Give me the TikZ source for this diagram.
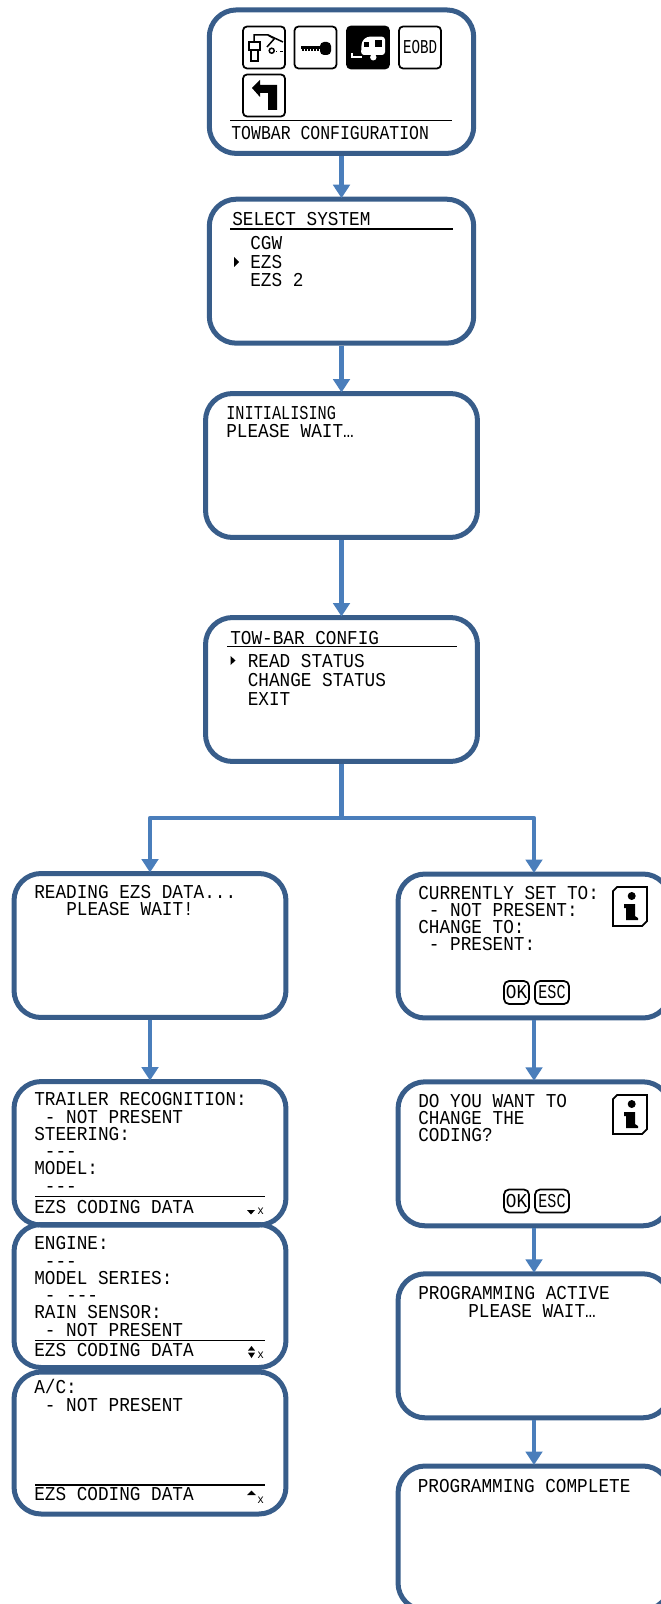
\documentclass[tikz,border=0pt]{standalone}
\usepackage{fontspec}
\usepackage{graphicx}
\usepackage{tikz}
\usetikzlibrary{arrows.meta}

\newfontfamily\lcdfont[FakeStretch=0.9]{Liberation Mono}
\definecolor{screenblue}{HTML}{385D8A}
\definecolor{flowblue}{HTML}{4A7EBB}

\tikzset{
  screen/.style={draw=screenblue, line width=0.1cm, rounded corners=0.54cm, minimum width=5.44cm, minimum height=2.88cm},
  flow/.style={draw=flowblue, line width=0.095cm, line join=round, shorten >=-0.03cm},
  lcd/.style={anchor=base west, inner sep=0pt, align=left, font=\fontsize{11.2}{9.8}\selectfont\lcdfont},
  menu/.style={lcd, font=\fontsize{11.2}{10.64}\selectfont\lcdfont},
  rulerline/.style={draw=black, line width=0.03cm},
  iconbox/.style={draw=black, line width=0.035cm, rounded corners=0.08cm, fill=white, minimum size=0.84cm, inner sep=0pt, font=\fontsize{11.2}{11.2}\selectfont\lcdfont},
  keybox/.style={draw=black, line width=0.035cm, rounded corners=0.1cm, minimum height=0.46cm, inner sep=0pt, font=\fontsize{11.2}{11.2}\selectfont\lcdfont},
  small/.style={lcd, font=\fontsize{7}{7}\selectfont\lcdfont}
}

\begin{document}
\begin{tikzpicture}[x=0.02cm, y=-0.02cm, >={Triangle[length=0.27cm, width=0.33cm]}]
\useasboundingbox (0,0) rectangle (661,1604);
\clip (0,0) rectangle (661,1604);

% Centre column
\node[screen, minimum width=5.29cm, minimum height=2.87cm] (towbar) at (341.5,81.7) {};
\node[screen, minimum width=5.29cm] (select) at (341.5,271.2) {};
\node[screen] (init) at (341.5,465.5) {};
\node[screen] (config) at (341.5,689.5) {};

% Left column
\node[screen] (reading) at (150,945.5) {};
\node[screen, minimum height=2.87cm] (trailer) at (150,1153.3) {};
\node[screen, minimum height=2.86cm] (engine) at (150,1296) {};
\node[screen, minimum height=2.84cm] (aircon) at (150,1443) {};

% Right column
\node[screen] (current) at (534,946) {};
\node[screen] (confirm) at (534,1153.8) {};
\node[screen] (active) at (534,1345.8) {};
\node[screen] (complete) at (534,1538) {};

% Menu icons
\node[iconbox] (tool) at (264,47.5) {};
\node[iconbox] (key) at (315.5,47.5) {};
\node[iconbox, fill=black] (caravan) at (368,47.5) {};
\node[iconbox] (eobd) at (420,47.5) {\scalebox{0.8}[1]{EOBD}};
\node[iconbox] (back) at (264,95.5) {};

% Tool icon
\draw[line width=0.03cm] (249,42) rectangle (260,50);
\draw[line width=0.03cm] (251,50) rectangle (258,61);
\draw[line width=0.03cm] (254,42) -- (254,35) -- (268,35) -- (273,38);
\draw[line width=0.03cm] (268,35) -- (283,42) (267,47) -- (275,38);
\draw[line width=0.03cm] (271.7,50.7) circle (2.5);
\draw[line width=0.03cm] (276,51.7) -- (277,51.7) (280,51.7) -- (283,51.7);

% Key icon
\fill (301,46.5) rectangle (321,49);
\foreach \tooth in {302,305,...,317} {
  \fill (\tooth,49) rectangle ++(1.6,2);
}
\fill[rounded corners=0.08cm] (320,42) rectangle (331,55);

% Caravan icon
\fill[white, rounded corners=0.06cm] (361,55) -- (361.7,41.7) -- (366.7,36.7) -- (385,36.7) -- (385,55) -- cycle;
\fill (363.5,41.7) rectangle (368.5,46.7);
\fill (375,40) rectangle (381.7,46.7);
\fill[white] (373.3,57.3) circle (3.2);
\draw[white, line width=0.04cm] (352,53) -- (352,57) -- (362,57);

% Back icon
\fill (252,88) -- (260,80) -- (260,85) -- (277,85) -- (277,110) -- (268,110) -- (268,93) -- (260,93) -- (260,97) -- cycle;

% Menu screen
\draw[rulerline] (230,120.7) -- (452,120.7);
\node[lcd] (towbartext) at (231,140) {\scalebox{0.93}[1]{TOWBAR CONFIGURATION}};

% System screen
\node[lcd] (selecttitle) at (232,225.7) {SELECT SYSTEM};
\draw[rulerline] (230,229) -- (453,229);
\node[menu] (selecttext) at (250,286.7) {CGW\\EZS\\EZS 2};
\fill (234,257) -- (239,262) -- (234,267) -- cycle;

% Wait screen
\node[lcd] (inittext) at (226,420) {\scalebox{0.86}[1]{INITIALISING}};
\node[lcd] (waittext) at (226,437.3) {PLEASE WAIT…};

% Config screen
\node[lcd] (configtitle) at (230,644) {TOW-BAR CONFIG};
\draw[rulerline] (227,646.7) -- (457,646.7);
\node[menu] (configtext) at (247.5,705.3) {READ STATUS\\CHANGE STATUS\\EXIT};
\fill (230.5,656) -- (235.5,660.5) -- (230.5,665) -- cycle;

% Reading screen
\node[lcd] (readtext) at (34,898.3) {READING EZS DATA...};
\node[lcd] (pleasetext) at (66,915.7) {PLEASE WAIT!};

% Coding data screens
\node[lcd] (trailertext) at (34,1192) {TRAILER RECOGNITION:\\\ - NOT PRESENT\\STEERING:\\\ -{}-{}-\\MODEL:\\\ -{}-{}-};
\draw[rulerline] (35,1196.7) -- (265,1196.7);
\node[lcd] (trailerfoot) at (34,1213.5) {EZS CODING DATA};
\fill (247,1210) -- (255,1210) -- (251,1214.5) -- cycle;
\node[small] (trailerx) at (257,1214.5) {x};

\node[lcd] (enginetext) at (34,1336) {ENGINE:\\\ -{}-{}-\\MODEL SERIES:\\\ - -{}-{}-\\RAIN SENSOR:\\\ - NOT PRESENT};
\draw[rulerline] (35,1340.7) -- (265,1340.7);
\node[lcd] (enginefoot) at (34,1356.7) {EZS CODING DATA};
\fill (248,1350.5) -- (255,1350.5) -- (251.5,1346) -- cycle;
\fill (248,1352.7) -- (255,1352.7) -- (251.5,1358) -- cycle;
\node[small] (enginex) at (257,1358) {x};

\node[lcd] (aircontext) at (34,1411) {A/C:\\\ - NOT PRESENT};
\draw[rulerline] (35,1485) -- (265,1485);
\node[lcd] (airconfoot) at (34,1500.7) {EZS CODING DATA};
\fill (247,1495) -- (256,1495) -- (251.5,1490.7) -- cycle;
\node[small] (airconx) at (257,1503) {x};

% Status screen
\node[lcd] (currenttext) at (418,950.7) {CURRENTLY SET TO:\\\ - NOT PRESENT:\\CHANGE TO:\\\ - PRESENT:};
\node[keybox, minimum width=0.5cm] (okone) at (516.5,992.5) {OK};
\node[keybox, minimum width=0.68cm] (escone) at (552,992.5) {\scalebox{0.85}[1]{ESC}};

% Question screen
\node[lcd] (confirmtext) at (418,1141.7) {DO YOU WANT TO\\CHANGE THE\\CODING?};
\node[keybox, minimum width=0.5cm] (oktwo) at (516.5,1201) {OK};
\node[keybox, minimum width=0.68cm] (esctwo) at (552,1201) {\scalebox{0.85}[1]{ESC}};

% Info icons
\foreach \infotop in {887,1095} {
  \draw[line width=0.035cm] (617,\infotop) -- (647,\infotop) -- (647,\infotop+34) -- (642,\infotop+39) -- (613,\infotop+39) -- (613,\infotop+4) -- cycle;
  \fill (631.7,\infotop+9) circle (4);
  \fill (624,\infotop+17) -- (635,\infotop+17) -- (635,\infotop+29) -- (638,\infotop+31) -- (638,\infotop+33) -- (626,\infotop+33) -- (626,\infotop+21) -- (624,\infotop+21) -- cycle;
}

% Programming screens
\node[lcd] (activetext) at (418,1299.3) {PROGRAMMING ACTIVE};
\node[lcd] (activewait) at (468,1317.3) {PLEASE WAIT…};
\node[lcd] (completetext) at (417.5,1492.5) {PROGRAMMING COMPLETE};

% Connections
\coordinate (fork) at (341.5,818);
\draw[->, flow] (towbar) -- (select);
\draw[->, flow] (select) -- (init);
\draw[->, flow] (init) -- (config);
\draw[flow, shorten >=0pt] (config) -- (fork);
\draw[->, flow] (fork) -| (reading);
\draw[->, flow] (fork) -| (current);
\draw[->, flow] (reading) -- (trailer);
\draw[->, flow] (current) -- (confirm);
\draw[->, flow] (confirm) -- (active);
\draw[->, flow] (active) -- (complete);
\end{tikzpicture}
\end{document}
